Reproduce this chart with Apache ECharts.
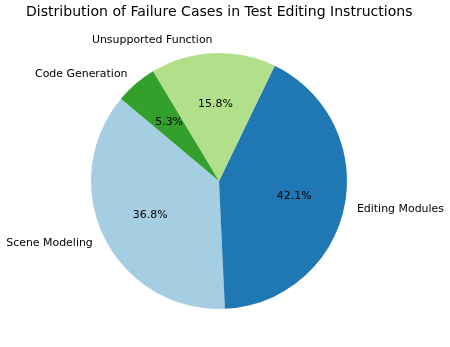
<!DOCTYPE html>
<html>
<head>
<meta charset="utf-8">
<script src="https://cdn.jsdelivr.net/npm/echarts@6/dist/echarts.min.js"></script>
<style>html,body{margin:0;padding:0;background:#fff;}#c{width:450px;height:347px;}</style>
</head>
<body>
<div id="c"></div>
<script>
var categories = ["Scene Modeling", "Editing Modules", "Unsupported Function", "Code Generation"];
var counts = [7, 8, 3, 1];
var colors = ["#a6cee3", "#1f78b4", "#b2df8a", "#33a02c"];
var titleText = "Distribution of Failure Cases in Test Editing Instructions";

var R = 128;
var center = [219, 181];
var font = "DejaVu Sans";

var data = categories.map(function (c, i) {
  return { name: c, value: counts[i], itemStyle: { color: colors[i] } };
});

var chart = echarts.init(document.getElementById('c'), null, { renderer: 'canvas' });
chart.setOption({
  animation: false,
  backgroundColor: '#fff',
  title: {
    text: titleText,
    left: 26,
    top: 5.5,
    padding: 0,
    textStyle: { fontFamily: font, fontSize: 14.05, fontWeight: 'normal', color: '#000' }
  },
  series: [
    {
      type: 'pie',
      center: center,
      radius: [0, R],
      startAngle: 140,
      clockwise: false,
      avoidLabelOverlap: false,
      silent: true,
      itemStyle: { borderWidth: 0 },
      label: {
        show: true,
        position: 'outside',
        formatter: '{b}',
        fontFamily: font,
        fontSize: 10.95,
        color: '#000',
        distanceToLabelLine: 0,
        alignTo: 'none'
      },
      labelLine: { show: false, length: R * 0.1, length2: 0 },
      emphasis: { disabled: true },
      data: data
    },
    {
      type: 'pie',
      center: center,
      radius: [60, 87.6],
      startAngle: 140,
      clockwise: false,
      avoidLabelOverlap: false,
      silent: true,
      percentPrecision: 1,
      itemStyle: { color: 'rgba(0,0,0,0)', borderWidth: 0 },
      label: {
        show: true,
        position: 'inside',
        formatter: '{d}%',
        fontFamily: font,
        fontSize: 10.95,
        color: '#000'
      },
      labelLine: { show: false },
      emphasis: { disabled: true },
      data: categories.map(function (c, i) { return { name: c, value: counts[i] }; })
    }
  ]
});
</script>
</body>
</html>
